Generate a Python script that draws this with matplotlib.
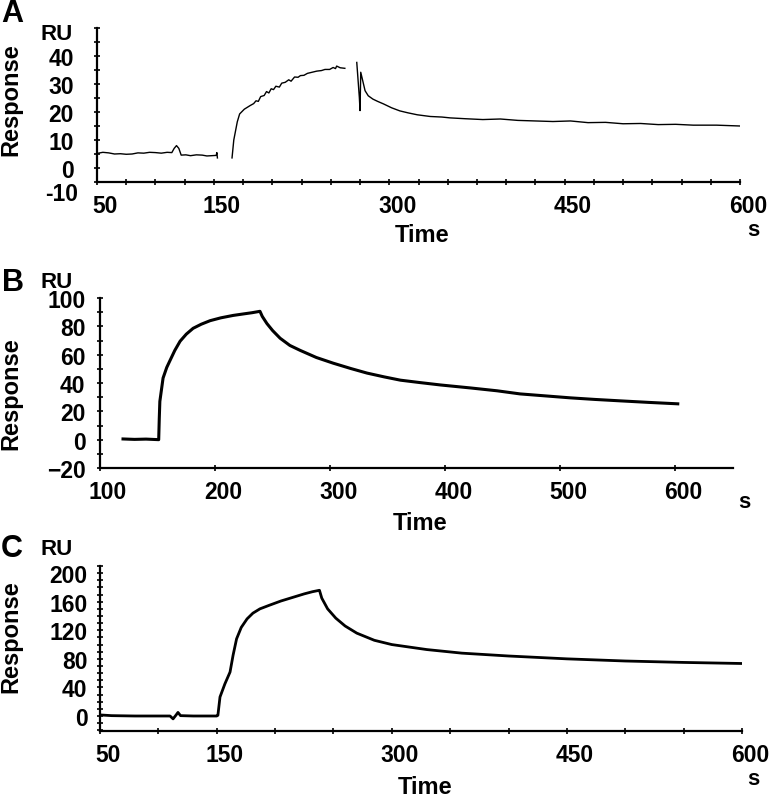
import numpy as np
import matplotlib
matplotlib.use("Agg")
import matplotlib.pyplot as plt
from matplotlib.transforms import ScaledTranslation
from matplotlib.ticker import MultipleLocator, FixedLocator

plt.rcParams['font.family'] = ['Liberation Sans', 'DejaVu Sans']
plt.rcParams['font.weight'] = 'bold'

nan = np.nan

# Panel A (thin noisy trace, gaps between segments)
time_a = [50, 55, 60, 65, 70, 75, 80, 85, 90, 95, 100, 105, 110, 114, 116, 118, 120, 122, 126, 130,
          135, 140, 144, 148, 152, 152.5, 153,
          nan,
          165.5, 167, 170, 172, 176, 181, 184, 186, 188, 190, 193, 195, 197, 199, 201, 203, 206, 208,
          211, 214, 216, 219, 222, 224, 227, 230, 234, 238, 242, 245, 249, 252, 254, 255, 258, 262,
          nan,
          272.2, 274.4, 275, 275.6, 279.3, 282, 286, 290, 295, 302, 309, 316, 324, 335, 345, 352, 365,
          380, 395, 410, 425, 440, 455, 470, 485, 500, 515, 530, 545, 560, 580, 600]
resp_a = [5.2, 5.6, 5.4, 5.0, 5.1, 4.9, 5.0, 5.4, 5.3, 5.6, 5.5, 5.3, 5.6, 5.5, 7.0, 8.0, 7.0, 4.6,
          4.7, 4.4, 4.7, 4.6, 4.3, 4.4, 4.5, 5.5, 3.6,
          nan,
          3.6, 10, 16.5, 19.3, 21, 22.3, 23.0, 24, 23.8, 25.5, 25.9, 27.3, 26.8, 28.3, 28.0, 29.2, 28.9,
          30.3, 30.6, 31.5, 31.0, 32.5, 32.4, 33.0, 33.1, 33.8, 34.2, 34.6, 34.8, 35.2, 35.2, 35.9, 35.5,
          36.4, 35.8, 35.6,
          nan,
          37.7, 25.2, 20.5, 34.2, 27.6, 25.8, 24.6, 23.8, 22.9, 21.5, 20.4, 19.7, 19.0, 18.4, 18.2, 17.9,
          17.6, 17.3, 17.5, 17.0, 16.8, 16.6, 16.8, 16.2, 16.3, 15.8, 15.9, 15.5, 15.6, 15.3, 15.3, 15.0]

# Panel B
time_b = [120, 130, 140, 151, 151.5, 152, 154.8, 158, 160.9, 165, 169.6, 175, 180.9, 188, 195.7,
          205, 215.7, 225, 232, 239, 241, 245, 250, 256.5, 265, 274, 288, 302.6, 318, 332, 347,
          361, 378, 396, 422, 445, 465, 487, 509, 530, 552, 577, 602]
resp_b = [0.5, 0.2, 0.4, 0, 15, 27, 43.5, 51, 56, 63, 69.5, 74.5, 78.6, 81.5, 84,
          86, 87.7, 88.8, 89.6, 90.6, 87, 82, 77, 71.6, 66.5, 63, 58, 54, 50.2, 47, 44.3,
          42, 40.3, 38.6, 36.5, 34.5, 32.3, 30.9, 29.5, 28.4, 27.4, 26.3, 25.3]

# Panel C
time_c = [50, 60, 80, 100, 110, 112.6, 115, 116.8, 119, 130, 140, 150, 151, 152.8, 157, 161.4,
          164, 167, 171, 176, 181, 187, 195, 205, 215, 225, 232, 238, 240, 245, 252, 260, 270,
          285, 300, 330, 360, 400, 450, 500, 550, 600]
resp_c = [1.5, 0.5, 0, 0, 0, -4, 1, 5, 0.5, 0, 0, 0, 1, 26.6, 45, 61.5,
          85, 108, 124, 136, 144, 150, 155, 161, 166, 171, 174, 176, 165, 150, 137, 126, 116,
          106, 100, 93, 88, 84, 80, 77, 75, 73.5]

W, H = 779, 803
fig = plt.figure(figsize=(W / 100, H / 100), dpi=100)
TICK_FS = 16.5


def box(l, t, r, b):
    return [l / W, 1 - b / H, (r - l) / W, (b - t) / H]


def style(ax, ypad):
    for s in ['top', 'right']:
        ax.spines[s].set_visible(False)
    for s in ['left', 'bottom']:
        ax.spines[s].set_linewidth(1.6)
    ax.tick_params(which='both', direction='inout', length=5, width=1.2)
    ax.tick_params(axis='x', which='major', labelsize=TICK_FS, pad=6)
    ax.tick_params(axis='y', which='major', labelsize=TICK_FS, pad=ypad)
    shift = ScaledTranslation(8 / 100, 0, fig.dpi_scale_trans)
    for lab in ax.get_xticklabels():
        lab.set_transform(lab.get_transform() + shift)
        lab.set_fontweight('bold')
    for lab in ax.get_yticklabels():
        lab.set_fontweight('bold')


def ftext(x, y, s, size, **kw):
    fig.text(x / W, 1 - y / H, s, fontsize=size, fontweight='bold', ha='center', va='center', **kw)


# A
ax_a = fig.add_axes(box(97, 29, 740, 183))
ax_a.plot(time_a, resp_a, color='black', lw=1.0)
ax_a.set_xlim(50, 600)
ax_a.set_ylim(-5, 50)
ax_a.set_xticks([50, 150, 300, 450, 600])
ax_a.xaxis.set_minor_locator(MultipleLocator(25))
ax_a.set_yticks([0, 10, 20, 30, 40])
ax_a.yaxis.set_minor_locator(MultipleLocator(5))
style(ax_a, 14)
ax_a.text(-0.03, -9, '-10', transform=ax_a.get_yaxis_transform(), ha='right', va='center',
          fontsize=TICK_FS, fontweight='bold', clip_on=False)

# B
ax_b = fig.add_axes(box(100, 299, 733, 469))
ax_b.plot(time_b, resp_b, color='black', lw=2.2)
ax_b.set_xlim(100, 650)
ax_b.set_ylim(-20, 100)
ax_b.set_xticks([100, 200, 300, 400, 500, 600])
ax_b.set_yticks([-20, 0, 20, 40, 60, 80, 100])
ax_b.yaxis.set_minor_locator(MultipleLocator(10))
style(ax_b, 8)

# C
ax_c = fig.add_axes(box(100, 567, 742, 732))
ax_c.plot(time_c, resp_c, color='black', lw=2.0)
ax_c.set_xlim(50, 600)
ax_c.set_ylim(-21, 210)
ax_c.set_xticks([50, 150, 300, 450, 600])
ax_c.xaxis.set_minor_locator(FixedLocator([100, 200, 250, 350, 400, 500, 550]))
ax_c.set_yticks([0, 40, 80, 120, 160, 200])
ax_c.yaxis.set_minor_locator(MultipleLocator(10))
style(ax_c, 6.5)

# panel letters, units and axis titles
ftext(12, 14, 'A', 22)
ftext(13, 283, 'B', 22)
ftext(12, 549, 'C', 22)
for y in (34, 282, 550):
    ftext(57, y, 'RU', 16)
ftext(11, 100, 'Response', 17, rotation=90)
ftext(11, 394, 'Response', 17, rotation=90)
ftext(11, 637, 'Response', 17, rotation=90)
ftext(422, 236, 'Time', 17)
ftext(420, 523, 'Time', 17)
ftext(425, 788, 'Time', 17)
ftext(753, 230, 's', 16)
ftext(744, 503, 's', 16)
ftext(753, 780, 's', 16)

fig.savefig('out.png', dpi=100)
